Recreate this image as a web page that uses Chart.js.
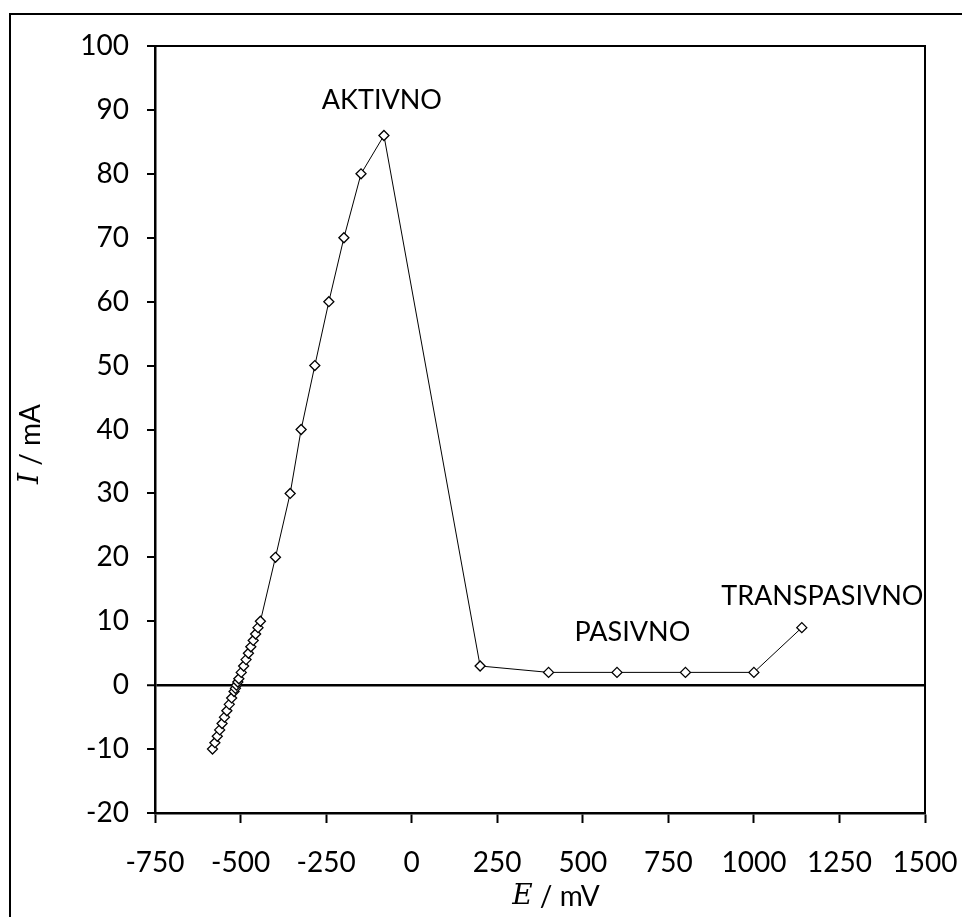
<!DOCTYPE html>
<html>
<head>
<meta charset="utf-8">
<script src="https://cdn.jsdelivr.net/npm/chart.js@4.4.1/dist/chart.umd.min.js"></script>
<style>
  body { margin: 0; background: #fff; }
  #wrap { width: 962px; height: 917px; }
</style>
</head>
<body>
<div id="wrap"><canvas id="myChart" width="962" height="917"></canvas></div>
<script>
// E / mV
const potencial = [-582, -575, -568, -561, -554, -547, -540, -533, -526, -519, -515, -512, -508,
  -505, -498, -491, -484, -477, -470, -463, -456, -449, -442,
  -398, -355, -323, -283, -242, -198, -148, -81, 200, 400, 600, 800, 1000, 1140];
// I / mA
const struja = [-10, -9, -8, -7, -6, -5, -4, -3, -2, -1, -0.5, 0, 0.5,
  1, 2, 3, 4, 5, 6, 7, 8, 9, 10,
  20, 30, 40, 50, 60, 70, 80, 86, 3, 2, 2, 2, 2, 9];

const podrucja = ['AKTIVNO', 'PASIVNO', 'TRANSPASIVNO'];
const podrucjaE = [-87, 645, 1200];
const podrucjaI = [91.5, 8.3, 13.9];

const FONT = 'Lato';
const points = potencial.map((e, i) => ({ x: e, y: struja[i] }));

// okvir, naslovi osi i oznake podrucja
const crtanje = {
  id: 'crtanje',
  afterDraw(chart) {
    const ctx = chart.ctx;
    const a = chart.chartArea;
    const sx = chart.scales.x, sy = chart.scales.y;
    ctx.save();
    ctx.strokeStyle = '#000';
    ctx.lineWidth = 2;
    ctx.strokeRect(10, 14, 960, 910);
    ctx.beginPath();
    ctx.moveTo(a.left, a.top);
    ctx.lineTo(a.right, a.top);
    ctx.lineTo(a.right, a.bottom);
    ctx.stroke();

    ctx.fillStyle = '#000';
    ctx.textBaseline = 'middle';
    ctx.textAlign = 'center';
    ctx.font = '27px ' + FONT;
    podrucja.forEach((t, i) => {
      ctx.fillText(t, sx.getPixelForValue(podrucjaE[i]), sy.getPixelForValue(podrucjaI[i]));
    });

    // naslovi osi
    const drawTitle = (sym, rest, cx, cy) => {
      ctx.font = 'italic 28px "DejaVu Serif"';
      const w1 = ctx.measureText(sym).width;
      ctx.font = '28px ' + FONT;
      const w2 = ctx.measureText(rest).width;
      let x0 = cx - (w1 + w2) / 2;
      ctx.textAlign = 'left';
      ctx.font = 'italic 28px "DejaVu Serif"';
      ctx.fillText(sym, x0, cy);
      ctx.font = '28px ' + FONT;
      ctx.fillText(rest, x0 + w1, cy);
    };
    drawTitle('E', ' / mV', 556, 897);
    ctx.translate(31, 444);
    ctx.rotate(-Math.PI / 2);
    drawTitle('I', ' / mA', 0, 0);
    ctx.restore();
  }
};

const config = {
  type: 'scatter',
  data: {
    datasets: [{
      data: points,
      showLine: true,
      borderColor: '#000',
      borderWidth: 1,
      tension: 0,
      pointStyle: 'rectRot',
      pointRadius: 5,
      pointBorderWidth: 1.3,
      pointBorderColor: '#000',
      pointBackgroundColor: '#fff'
    }]
  },
  options: {
    responsive: false,
    animation: false,
    layout: { padding: { top: 46, right: 37, left: 0, bottom: 0 } },
    plugins: { legend: { display: false }, tooltip: { enabled: false } },
    scales: {
      x: {
        type: 'linear',
        min: -750, max: 1500,
        afterFit: (s) => { s.height = 104; s.paddingLeft = 0; s.paddingRight = 0; },
        ticks: {
          stepSize: 250, color: '#000', padding: 23,
          font: { family: FONT, size: 28 },
          callback: (v) => String(v)
        },
        grid: { drawOnChartArea: false, tickLength: 10, tickColor: '#000', tickWidth: 2 },
        border: { color: '#000', width: 2.5 }
      },
      y: {
        min: -20, max: 100,
        afterFit: (s) => { s.width = 155; s.paddingTop = 0; s.paddingBottom = 0; },
        ticks: {
          stepSize: 10, color: '#000', padding: 18,
          font: { family: FONT, size: 28 },
          callback: (v) => String(v)
        },
        grid: {
          tickLength: 8,
          tickColor: '#000',
          tickWidth: 2,
          color: (c) => (c.tick && c.tick.value === 0 ? '#000' : 'rgba(0,0,0,0)'),
          lineWidth: (c) => (c.tick && c.tick.value === 0 ? 2.5 : 0)
        },
        border: { color: '#000', width: 2.5 }
      }
    }
  },
  plugins: [crtanje]
};

const chart = new Chart(document.getElementById('myChart'), config);
</script>
</body>
</html>
